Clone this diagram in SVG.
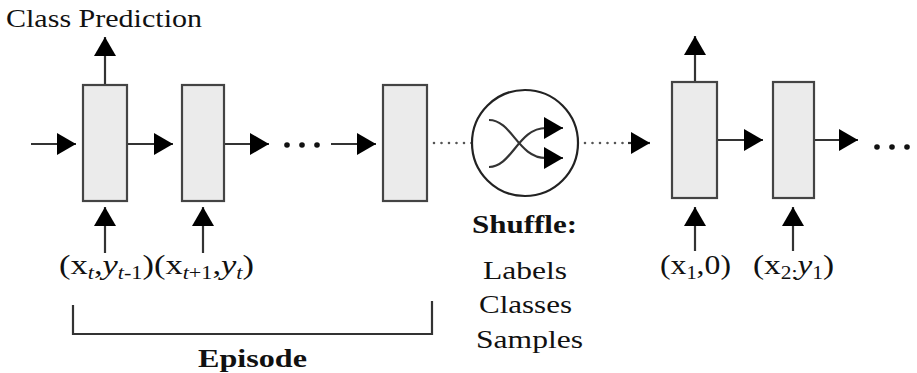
<svg xmlns="http://www.w3.org/2000/svg" width="917" height="373" viewBox="0 0 917 373">
<defs>
<marker id="ah" markerUnits="userSpaceOnUse" markerWidth="19" markerHeight="22" refX="19" refY="11" orient="auto"><path d="M0,0 L19,11 L0,22 z" fill="#000"/></marker>
<style>
.box{fill:#ebebeb;stroke:#444;stroke-width:2.2}
.ln{stroke:#333;stroke-width:2.2;fill:none}
.arr{stroke:#333;stroke-width:2.2;fill:none;marker-end:url(#ah)}
.dot{stroke:#555;stroke-width:2.6;stroke-linecap:round;stroke-dasharray:0 7.5;fill:none}
.t{font-family:"Liberation Serif","Times New Roman",serif;font-size:25px;fill:#111}
.b{font-weight:bold}
.m{font-family:"Liberation Serif","Times New Roman",serif;font-size:28px;fill:#111}
.s{font-size:18px}
.i{font-style:italic}
.el{fill:#111}
</style>
</defs>
<rect width="917" height="373" fill="#fff"/>
<g id="connectors">
<line class="arr" x1="31" y1="144" x2="76" y2="144"/>
<line class="arr" x1="127" y1="144" x2="173" y2="144"/>
<line class="arr" x1="224" y1="144" x2="269" y2="144"/>
<line class="arr" x1="331" y1="144" x2="376" y2="144"/>
<line class="arr" x1="105" y1="85" x2="105" y2="37"/>
<line class="arr" x1="105" y1="253" x2="105" y2="207"/>
<line class="arr" x1="203" y1="253" x2="203" y2="207"/>
<line class="dot" x1="434" y1="143" x2="472" y2="143"/>
<line class="dot" x1="585" y1="143" x2="628" y2="143"/>
<line class="arr" x1="628" y1="143" x2="650" y2="143"/>
<line class="arr" x1="717" y1="140" x2="763" y2="140"/>
<line class="arr" x1="814" y1="140" x2="858" y2="140"/>
<line class="arr" x1="695" y1="82" x2="695" y2="36"/>
<line class="arr" x1="695" y1="251" x2="695" y2="207"/>
<line class="arr" x1="793" y1="251" x2="793" y2="207"/>
<g class="el">
<circle cx="287" cy="145" r="2.8"/><circle cx="302" cy="145" r="2.8"/><circle cx="317" cy="145" r="2.8"/>
<circle cx="877" cy="147" r="2.8"/><circle cx="892" cy="147" r="2.8"/><circle cx="907" cy="147" r="2.8"/>
</g>
<path class="ln" d="M73,305 L73,334 L432,334 L432,301"/>
</g>
<g id="box1"><rect class="box" x="83" y="85" width="44" height="116"/></g>
<g id="box2"><rect class="box" x="182" y="85" width="42" height="116"/></g>
<g id="box3"><rect class="box" x="383" y="85" width="44" height="116"/></g>
<g id="shuffle">
<circle cx="525" cy="143" r="53" fill="#fff" stroke="#222" stroke-width="2.2"/>
<path class="arr" d="M489,120 C512,120 518,158 546,158 L563,158"/>
<path class="arr" d="M489,167 C512,167 518,128 546,128 L563,128"/>
</g>
<g id="boxA"><rect class="box" x="672" y="82" width="45" height="116"/></g>
<g id="boxB"><rect class="box" x="773" y="82" width="41" height="116"/></g>
<g id="labels">
<text class="t" x="6" y="27" textLength="196" lengthAdjust="spacingAndGlyphs">Class Prediction</text>
<text class="m" x="59" y="274" textLength="195" lengthAdjust="spacingAndGlyphs">(x<tspan class="s i" dy="5">t</tspan><tspan dy="-5">,</tspan><tspan class="i">y</tspan><tspan class="s i" dy="5">t</tspan><tspan class="s" dy="0">-1</tspan><tspan dy="-5">)(x</tspan><tspan class="s i" dy="5">t</tspan><tspan class="s">+1</tspan><tspan dy="-5">,</tspan><tspan class="i">y</tspan><tspan class="s i" dy="5">t</tspan><tspan dy="-5">)</tspan></text>
<text class="m" x="660" y="274" textLength="71" lengthAdjust="spacingAndGlyphs">(x<tspan class="s" dy="5">1</tspan><tspan dy="-5">,0)</tspan></text>
<text class="m" x="753" y="274" textLength="81" lengthAdjust="spacingAndGlyphs">(x<tspan class="s" dy="5">2:</tspan><tspan class="i" dy="-5">y</tspan><tspan class="s" dy="5">1</tspan><tspan dy="-5">)</tspan></text>
<text class="t b" x="472" y="233" textLength="105" lengthAdjust="spacingAndGlyphs">Shuffle:</text>
<text class="t" x="483" y="279" textLength="84" lengthAdjust="spacingAndGlyphs">Labels</text>
<text class="t" x="479" y="313" textLength="93" lengthAdjust="spacingAndGlyphs">Classes</text>
<text class="t" x="476" y="348" textLength="107" lengthAdjust="spacingAndGlyphs">Samples</text>
<text class="t b" x="198" y="367" textLength="109" lengthAdjust="spacingAndGlyphs">Episode</text>
</g>
</svg>
